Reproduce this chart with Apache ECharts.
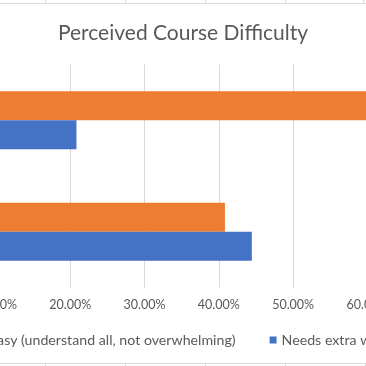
<!DOCTYPE html>
<html><head><meta charset="utf-8">
<script src="https://cdn.jsdelivr.net/npm/echarts@6/dist/echarts.min.js"></script>
<style>html,body{margin:0;padding:0;background:#fff;overflow:hidden;width:366px;height:366px}#c{width:666px;height:366px;margin-left:-150px}</style>
</head><body><div id="c"></div>
<script>
const categories = ['Group B', 'Group A'];
const easyValues = [40.82, 61.2];
const extraWorkValues = [44.44, 20.83];
const seriesNames = ['Easy (understand all, not overwhelming)', 'Needs extra work'];
const titleText = 'Perceived Course Difficulty';

const FONT = 'Lato';
const OFF = 150;
const chart = echarts.init(document.getElementById('c'), null, {renderer: 'canvas'});
const cellLine = {stroke: '#d9d9d9', lineWidth: 1};
chart.setOption({
  animation: false,
  title: {text: titleText, left: 'center', top: 18, textStyle: {fontFamily: FONT, fontSize: 21, fontWeight: 'normal', color: '#595959'}},
  legend: {
    data: seriesNames, left: OFF - 28, top: 328, itemWidth: 7, itemHeight: 7, itemGap: 34,
    icon: 'rect', textStyle: {fontFamily: FONT, fontSize: 14.2, color: '#595959'}
  },
  grid: {left: OFF - 78.3, width: 520, top: 64.5, height: 223, containLabel: false},
  xAxis: {
    type: 'value', min: 0, max: 70, interval: 10,
    axisLabel: {formatter: v => v.toFixed(2) + '%', fontFamily: FONT, fontSize: 12.5, color: '#595959', margin: 11},
    splitLine: {lineStyle: {color: '#d9d9d9'}}, axisLine: {show: false}, axisTick: {show: false}
  },
  yAxis: {type: 'category', data: categories, axisLabel: {show: false}, axisTick: {show: false}, axisLine: {show: false}},
  series: [
    {name: seriesNames[0], type: 'bar', data: easyValues, itemStyle: {color: '#ed7d31'}, barWidth: 29, barGap: '0%'},
    {name: seriesNames[1], type: 'bar', data: extraWorkValues, itemStyle: {color: '#4472c4'}, barWidth: 29, barGap: '0%'}
  ],
  graphic: [
    {type: 'line', shape: {x1: OFF, y1: 3.5, x2: OFF + 366, y2: 3.5}, style: cellLine, silent: true},
    {type: 'line', shape: {x1: OFF, y1: 363.5, x2: OFF + 366, y2: 363.5}, style: cellLine, silent: true},
    ...[45.5, 125.5, 205.5, 285.5, 363.5].map(x => ({type: 'line', shape: {x1: OFF + x, y1: 0, x2: OFF + x, y2: 3}, style: cellLine, silent: true})),
    ...[45.5, 125.5, 205.5, 285.5, 365.5].map(x => ({type: 'line', shape: {x1: OFF + x, y1: 364, x2: OFF + x, y2: 366}, style: cellLine, silent: true}))
  ]
});
</script></body></html>
